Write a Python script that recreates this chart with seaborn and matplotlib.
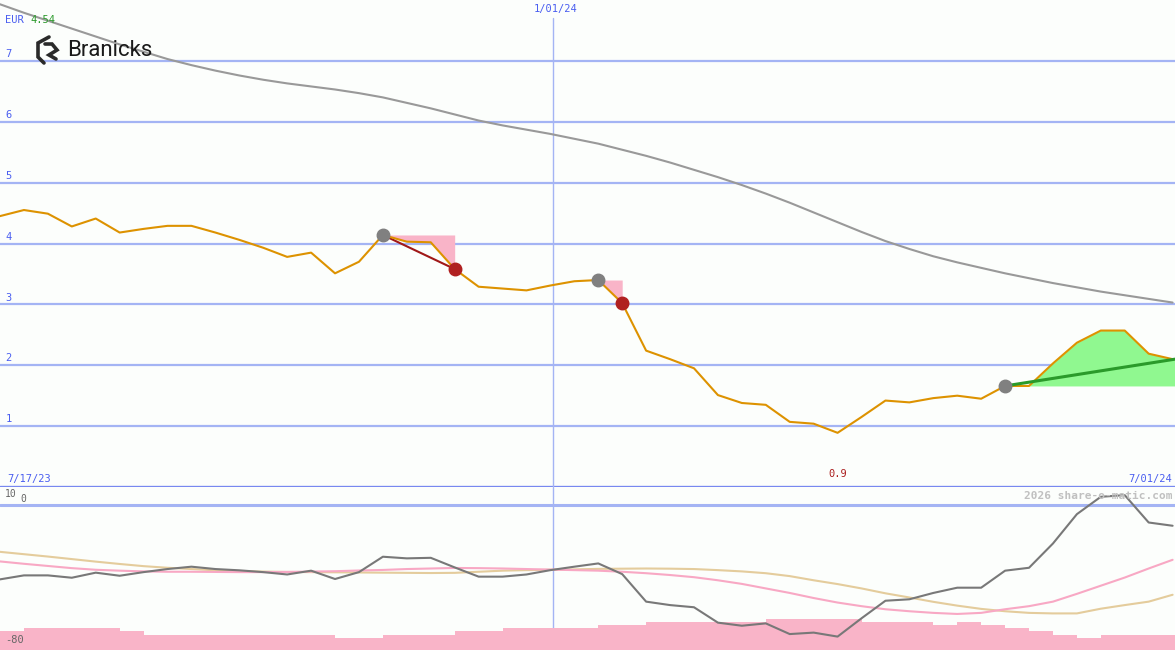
import matplotlib
matplotlib.use("Agg")
import matplotlib.pyplot as plt
import matplotlib.transforms as mtransforms
from matplotlib.lines import Line2D
import seaborn as sns

# ---------------- data ----------------
weeks = list(range(50))
price = [4.45, 4.55, 4.49, 4.28, 4.41, 4.18, 4.24, 4.29, 4.29, 4.18,
         4.06, 3.93, 3.78, 3.85, 3.51, 3.70, 4.14, 4.03, 4.02, 3.58,
         3.29, 3.26, 3.23, 3.31, 3.38, 3.40, 3.02, 2.24, 2.10, 1.95,
         1.51, 1.38, 1.35, 1.07, 1.04, 0.89, 1.15, 1.42, 1.39, 1.46,
         1.50, 1.45, 1.66, 1.66, 2.03, 2.37, 2.57, 2.57, 2.19, 2.10]
ma_long = [7.93, 7.79, 7.66, 7.53, 7.40, 7.27, 7.15, 7.03, 6.93, 6.84,
           6.76, 6.69, 6.63, 6.58, 6.53, 6.47, 6.40, 6.31, 6.22, 6.12,
           6.02, 5.94, 5.87, 5.80, 5.72, 5.64, 5.54, 5.44, 5.33, 5.21,
           5.09, 4.96, 4.82, 4.67, 4.51, 4.35, 4.19, 4.04, 3.91, 3.79,
           3.69, 3.60, 3.51, 3.43, 3.35, 3.28, 3.21, 3.15, 3.09, 3.03]
osc = [-41.0, -38.8, -38.8, -40.1, -37.3, -39.0, -37.0, -35.3, -34.0, -35.3,
       -36.0, -37.0, -38.3, -36.2, -40.8, -37.0, -28.5, -29.4, -29.1, -34.4,
       -39.5, -39.5, -38.3, -35.9, -34.0, -32.2, -38.1, -53.3, -55.2, -56.4,
       -64.9, -66.6, -65.3, -71.2, -70.4, -72.6, -62.5, -52.8, -52.0, -48.5,
       -45.6, -45.6, -36.2, -34.6, -21.2, -5.0, 4.6, 5.5, -9.6, -11.4]
sig_pink = [-31.1, -32.4, -33.6, -34.8, -35.7, -36.2, -36.6, -36.8, -36.8, -36.9,
            -37.0, -37.0, -36.9, -36.7, -36.5, -36.1, -35.8, -35.3, -35.0, -34.7,
            -34.8, -35.0, -35.3, -35.6, -35.9, -36.2, -36.8, -37.6, -38.6, -39.8,
            -41.5, -43.5, -46.0, -48.5, -51.3, -53.8, -55.8, -57.5, -58.6, -59.5,
            -60.1, -59.5, -57.5, -55.8, -53.3, -49.0, -44.5, -40.0, -35.0, -30.2]
sig_tan = [-25.8, -27.1, -28.4, -29.8, -31.2, -32.5, -33.7, -34.6, -35.3, -36.0,
           -36.4, -36.7, -36.9, -37.0, -37.1, -37.2, -37.3, -37.4, -37.5, -37.4,
           -36.8, -36.2, -35.9, -35.7, -35.5, -35.2, -35.1, -35.0, -35.1, -35.3,
           -35.9, -36.6, -37.6, -39.2, -41.5, -43.6, -46.0, -48.7, -51.0, -53.4,
           -55.5, -57.3, -58.6, -59.5, -59.8, -59.8, -57.2, -55.2, -53.3, -49.5]
volume = [-69.5, -67.7, -67.7, -67.7, -67.7, -69.5, -71.7, -71.7, -71.7, -71.7,
          -71.7, -71.7, -71.7, -71.7, -73.2, -73.2, -71.7, -71.7, -71.7, -69.5,
          -69.5, -67.7, -67.7, -67.7, -67.7, -66.2, -66.2, -64.6, -64.6, -64.6,
          -64.6, -64.6, -62.9, -62.9, -62.9, -62.9, -64.6, -64.6, -64.6, -66.2,
          -64.6, -66.2, -67.7, -69.5, -71.7, -73.2, -71.7, -71.7, -71.7, -71.7]

down_signals = [(16, 19), (25, 26)]     # (start week, end week)
up_signal_start = 42
up_trend_end = 2.10

main_yticks = [1, 2, 3, 4, 5, 6, 7]
date_left, date_mid, date_right = "7/17/23", "1/01/24", "7/01/24"
mid_week = 23.11
x_max = 49.1
currency, last_price = "EUR", "4.54"
watermark = "2026 share-o-matic.com"
company = "Branicks"

# ---------------- style ----------------
sns.set_theme(style="white")
plt.rcParams["font.family"] = ["DejaVu Sans Mono", "DejaVu Sans"]

BG = "#fcfefc"
GRID = "#a4b4f4"
AXIS = "#7888f0"
BLUE_TXT = "#4a5ef0"
ORANGE = "#dd9200"
PINK = "#f9b4c8"

W, H = 1175, 650
fig = plt.figure(figsize=(W / 100, H / 100), dpi=100, facecolor=BG)
split = (H - 487) / H
ax = fig.add_axes([0, split, 1, 1 - split])
axb = fig.add_axes([0, 0, 1, split])
for a in (ax, axb):
    a.set_facecolor(BG)
    for s in a.spines.values():
        s.set_visible(False)
    a.set_xticks([])
    a.set_yticks([])
    a.set_xlim(0, x_max)

ax.set_ylim(0, 8)
axb.set_ylim(-80, 10)

# ---------------- main panel ----------------
for v in main_yticks:
    ax.axhline(v, color=GRID, lw=1.6, zorder=1)
ax.axhline(0, color=AXIS, lw=2.4, zorder=1, clip_on=False)
ax.axvline(mid_week, ymin=0, ymax=(487 - 18) / 487, color=GRID, lw=1, zorder=1)

trans_y = mtransforms.blended_transform_factory(ax.transAxes, ax.transData)
for v in main_yticks:
    ax.text(0.0045, v + 0.03, str(v), transform=trans_y, color=BLUE_TXT,
            fontsize=7.5, ha="left", va="bottom")

# down signal fills
for s, e in down_signals:
    xs = weeks[s:e + 1]
    ax.fill_between(xs, price[s:e + 1], [price[s]] * len(xs), color=PINK, lw=0, zorder=2)
# up signal fill
xs_up = weeks[up_signal_start:] + [x_max]
ys_up = price[up_signal_start:] + [price[-1] + (price[-1] - price[-2]) * (x_max - weeks[-1])]
ax.fill_between(xs_up, ys_up, [price[up_signal_start]] * len(xs_up),
                color="#90f890", lw=0, zorder=2)

sns.lineplot(x=weeks, y=ma_long, ax=ax, color="#999999", lw=1.5, zorder=3, legend=False)

s0, e0 = down_signals[0]
sns.lineplot(x=[weeks[s0], weeks[e0]], y=[price[s0], price[e0]], ax=ax,
             color="#a01818", lw=1.5, zorder=4, legend=False)
sns.lineplot(x=[weeks[up_signal_start], x_max], y=[price[up_signal_start], up_trend_end],
             ax=ax, color="#2a9a2a", lw=2.2, zorder=5, legend=False)
sns.lineplot(x=weeks, y=price, ax=ax, color=ORANGE, lw=1.5, zorder=4, legend=False)

for s, e in down_signals:
    ax.plot(weeks[s], price[s], "o", ms=9, color="#808080", zorder=6)
    ax.plot(weeks[e], price[e], "o", ms=9, color="#b02020", zorder=6)
ax.plot(weeks[up_signal_start], price[up_signal_start], "o", ms=9, color="#808080", zorder=6)

ax.set_xlim(0, x_max)
ax.set_ylim(0, 8)
ax.set_xlabel("")
ax.set_ylabel("")

# min label
imin = price.index(min(price))
ax.text(weeks[imin], 0.13, f"{min(price):.1f}", color="#aa1e1e", fontsize=7.5,
        ha="center", va="bottom")

# ---------------- bottom panel ----------------
axb.axhline(0, color=GRID, lw=2.2, zorder=1)
axb.axvline(mid_week, color=GRID, lw=1, zorder=0.5)
axb.bar(weeks, [v - (-80) for v in volume], bottom=-80, width=1.0, align="edge",
        color=PINK, lw=0, zorder=1)
sns.lineplot(x=weeks, y=sig_tan, ax=axb, color="#e4cc9c", lw=1.5, zorder=2, legend=False)
sns.lineplot(x=weeks, y=sig_pink, ax=axb, color="#f8a8c4", lw=1.5, zorder=2, legend=False)
sns.lineplot(x=weeks, y=osc, ax=axb, color="#787878", lw=1.5, zorder=3, legend=False)
axb.set_xlim(0, x_max)
axb.set_ylim(-80, 10)
axb.set_xlabel("")
axb.set_ylabel("")
axb.set_xticks([])
axb.set_yticks([])

# ---------------- texts ----------------
def ftext(x, y, s, **kw):
    fig.text(x / W, 1 - y / H, s, **kw)

ftext(5, 20, currency, color=BLUE_TXT, fontsize=7.5, ha="left", va="center")
ftext(30, 20, last_price, color="#2a9a2a", fontsize=7.5, ha="left", va="center")
ftext(556, 9, date_mid, color=BLUE_TXT, fontsize=7.5, ha="center", va="center")
ftext(7, 479, date_left, color=BLUE_TXT, fontsize=7.5, ha="left", va="center")
ftext(1172, 479, date_right, color=BLUE_TXT, fontsize=7.5, ha="right", va="center")
ftext(1172, 496, watermark, color="#c0c0c0", fontsize=8, ha="right", va="center",
      fontweight="bold")
ftext(5, 494, "10", color="#666666", fontsize=7, ha="left", va="center")
ftext(20, 499, "0", color="#666666", fontsize=7, ha="left", va="center")
ftext(5, 640, "-80", color="#666666", fontsize=7.5, ha="left", va="center")

# logo
ftext(67, 50, company, color="#1a1a1a", fontsize=16, ha="left", va="center",
      family=["Roboto", "DejaVu Sans"])
logo_pts = [[(49, 37), (38, 43), (38, 57), (44, 63)],
            [(45, 44), (52, 44), (57, 50), (49, 55), (56, 59)]]
for pts in logo_pts:
    fig.add_artist(Line2D([p[0] / W for p in pts], [1 - p[1] / H for p in pts],
                          transform=fig.transFigure, color="#2a2a2a", lw=2.6,
                          solid_joinstyle="miter"))

fig.savefig("out.png", dpi=100, facecolor=BG)
